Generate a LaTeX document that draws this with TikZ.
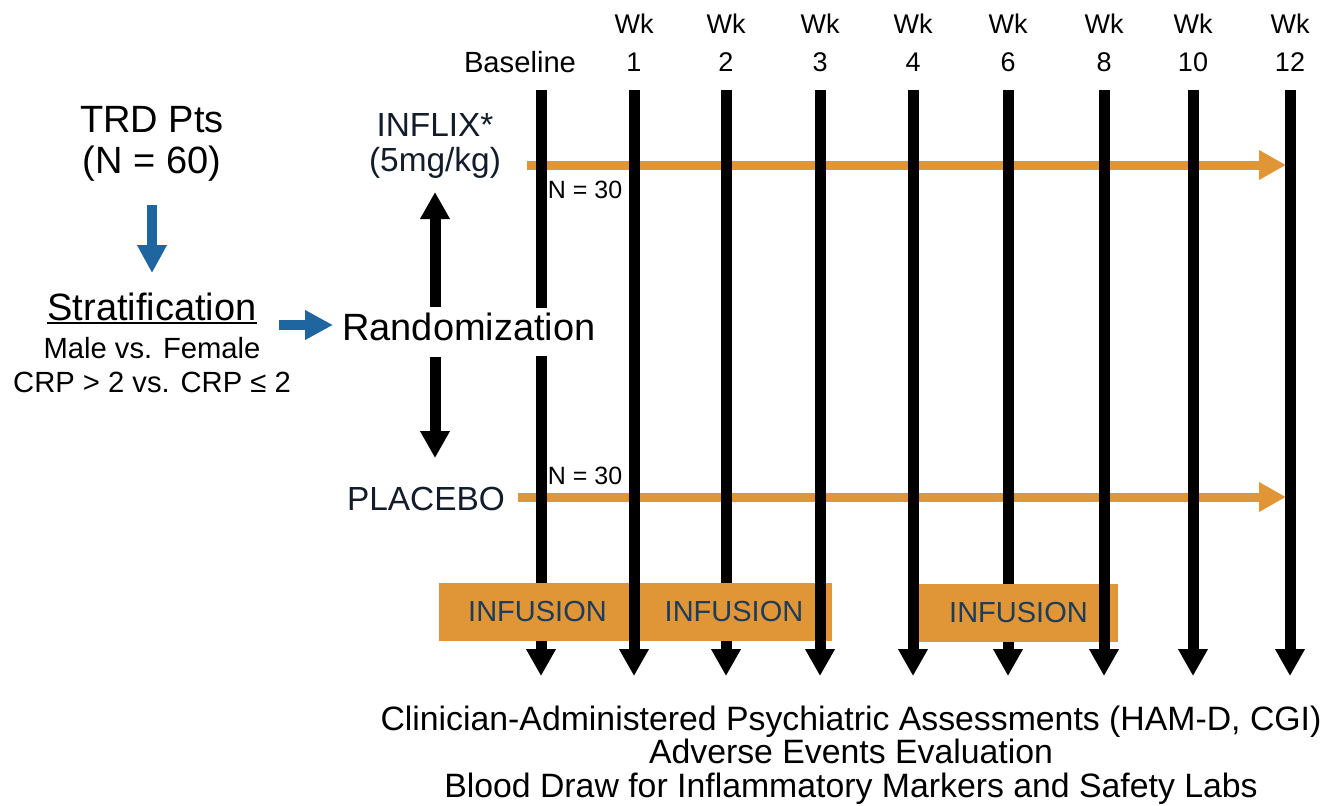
\documentclass[tikz,border=0pt]{standalone}
\usepackage{fontspec}
\setmainfont{Liberation Sans}
\usepackage{xcolor}
\usepackage{tikz}
\usetikzlibrary{
    calc,
    arrows.meta
}
\definecolor{doseorange}{RGB}{224,150,54}
\definecolor{stratblue}{RGB}{31,101,160}
\definecolor{armnavy}{RGB}{18,28,42}
\definecolor{infnavy}{RGB}{28,60,90}

\tikzset{
    lbl/.style={anchor=base, inner sep=0pt},
    wk/.style={lbl, font=\fontsize{13.5}{16}\selectfont},
    big/.style={lbl, font=\fontsize{19}{22}\selectfont},
    mid/.style={lbl, font=\fontsize{14.6}{17}\selectfont},
    arm/.style={lbl, text=armnavy, font=\fontsize{16.7}{19}\selectfont},
    small/.style={lbl, font=\fontsize{12.5}{15}\selectfont},
    foot/.style={lbl, font=\fontsize{16.9}{19}\selectfont},
    infusion/.style={fill=doseorange, text=infnavy, inner sep=0pt,
        font=\fontsize{14.5}{17}\selectfont, minimum height=29pt},
    visit/.style={line width=5.5pt, -{Triangle[width=14pt,length=13.5pt]}},
    armline/.style={draw=doseorange, line width=4.5pt, -{Triangle[width=14pt,length=13.5pt]}},
    stratarrow/.style={draw=stratblue, line width=5pt, -{Triangle[width=14pt,length=14pt]}},
}

\begin{document}
\begin{tikzpicture}[x=0.5pt,y=-0.5pt]
    \useasboundingbox (0,0) rectangle (1328,805);

    % patients and stratification
    \begin{scope}
        \draw (152,132) node[big](trd){TRD Pts};
        \draw (152,173) node[big](npts){(N = 60)};
        \draw (152,320) node[big](strat){Stratification};
        \draw (152,358) node[mid](sex){Male vs. Female};
        \draw (152,392) node[mid](crp){CRP > 2 vs. CRP ≤ 2};
        \draw[line width=1pt] ([yshift=-1.6pt]strat.base west) -- ([yshift=-1.6pt]strat.base east);

        \coordinate (s1) at (152,205);
        \coordinate (s2) at (152,273);
        \coordinate (s3) at (279,325);
        \coordinate (s4) at (333,325);
        \draw[stratarrow] (s1) -- (s2);
        \draw[stratarrow] (s3) -- (s4);
    \end{scope}

    % arms
    \draw (435,136) node[arm](inflix){INFLIX*};
    \draw (435,171) node[arm](dose){(5mg/kg)};
    \draw (426,510) node[arm](placebo){PLACEBO};
    \draw (585,198) node[small](ninf){N = 30};
    \draw (585,484) node[small](npla){N = 30};

    \coordinate (infa) at (527,165);
    \coordinate (infb) at (1286,165);
    \coordinate (plaa) at (518,497);
    \coordinate (plab) at (1286,497);
    \draw[armline] (infa) -- (infb);
    \draw[armline] (plaa) -- (plab);

    % visit labels
    \draw (520,72) node[mid](base){Baseline};
    \foreach \x/\w in {634/1,726/2,820/3,913/4,1008/6,1104/8,1193/10,1290/12}{
        \draw (\x,33) node[wk](wk\w){Wk};
        \draw (\x,71) node[wk](num\w){\w};
        \coordinate (top\w) at (\x,90);
        \coordinate (tip\w) at (\x,676);
    }

    % these visits run behind randomization and the infusion boxes
    \coordinate (top0) at (541,90);
    \coordinate (tip0) at (541,676);
    \foreach \w in {0,2,6}{
        \draw[visit] (top\w) -- (tip\w);
    }

    \draw (469,340) node[big, fill=white, text height=15pt, text depth=7pt, inner ysep=1pt](rand){Randomization};
    \coordinate (ru) at (435,307);
    \coordinate (rd) at (435,357);
    \coordinate (toinf) at (435,192);
    \coordinate (topla) at (435,458);
    \draw[visit] (ru) -- (toinf);
    \draw[visit] (rd) -- (topla);

    % infusion windows
    \node[infusion, minimum width=98.5pt] (inf1) at (537.5,612) {INFUSION};
    \node[infusion, minimum width=98pt]   (inf2) at (734,612)   {INFUSION};
    \node[infusion, minimum width=99.5pt] (inf3) at (1018.5,613) {INFUSION};

    \foreach \w in {1,3,4,8,10,12}{
        \draw[visit] (top\w) -- (tip\w);
    }

    % assessments at every visit
    \draw (851,730) node[foot](clin){Clinician-Administered Psychiatric Assessments (HAM-D, CGI)};
    \draw (851,763) node[foot](adv){Adverse Events Evaluation};
    \draw (851,797) node[foot](blood){Blood Draw for Inflammatory Markers and Safety Labs};
\end{tikzpicture}
\end{document}
